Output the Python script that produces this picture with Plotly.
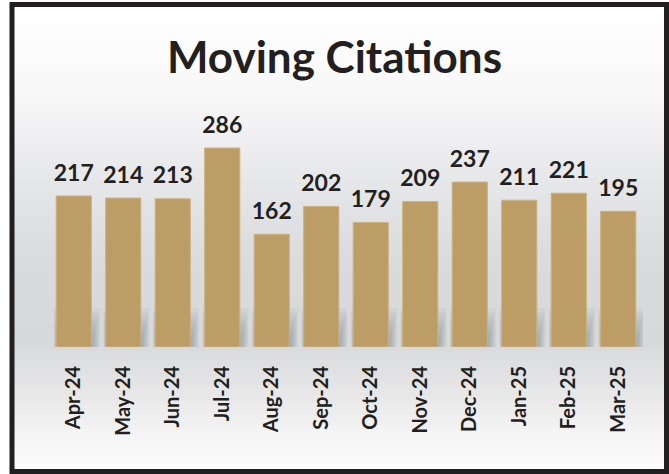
import plotly.graph_objects as go

months = ["Apr-24", "May-24", "Jun-24", "Jul-24", "Aug-24", "Sep-24",
          "Oct-24", "Nov-24", "Dec-24", "Jan-25", "Feb-25", "Mar-25"]
citations = [217, 214, 213, 286, 162, 202, 179, 209, 237, 211, 221, 195]
title_text = "Moving Citations"

W, H = 669, 474
ML, MR, MT, MB = 49, 26, 100, 127
PW, PH = W - ML - MR, H - MT - MB

def px_x(px):
    return (px - ML) / PW

def px_y(py):
    return (H - MB - py) / PH

def hex2rgb(h):
    h = h.lstrip("#")
    return [int(h[i:i + 2], 16) for i in (0, 2, 4)]

stops = [(7, "#ffffff"), (100, "#f7f7f8"), (180, "#e6e7e9"), (260, "#dadbdd"),
         (340, "#d7d8da"), (400, "#e9e9ea"), (440, "#f6f6f6"), (470, "#fdfdfd")]

def color_at(py):
    for (a, ca), (b, cb) in zip(stops[:-1], stops[1:]):
        if a <= py <= b:
            t = (py - a) / (b - a)
            r1, r2 = hex2rgb(ca), hex2rgb(cb)
            c = [round(r1[i] + (r2[i] - r1[i]) * t) for i in range(3)]
            return "rgb(%d,%d,%d)" % tuple(c)
    return stops[-1][1]

shapes = []
top, bot = 7, 470
n = 93
step = (bot - top) / n
for k in range(n):
    y0 = top + k * step
    y1 = y0 + step + 0.6
    shapes.append(dict(type="rect", xref="paper", yref="paper",
                       x0=px_x(14), x1=px_x(666), y0=px_y(y1), y1=px_y(y0),
                       fillcolor=color_at(y0 + step / 2), line=dict(width=0),
                       layer="below"))

# soft shadows at bar bases
for i in range(len(months)):
    for k in range(8):
        shapes.append(dict(type="rect", xref="x", yref="y",
                           x0=i - 0.40 + k * 0.008, x1=i + 0.53 - k * 0.02,
                           y0=0, y1=56 - k * 6,
                           fillcolor="rgba(120,122,128,0.07)", line=dict(width=0),
                           layer="below"))

# outer border
shapes.append(dict(type="rect", xref="paper", yref="paper",
                   x0=px_x(12), x1=px_x(666.5), y0=px_y(471.5), y1=px_y(4.5),
                   line=dict(color="#231f20", width=5), fillcolor="rgba(0,0,0,0)",
                   layer="above"))

fig = go.Figure()
fig.add_trace(go.Bar(
    x=months, y=citations,
    marker=dict(color="#bc9d66", line=dict(color="#cbb183", width=1)),
    width=0.71, hoverinfo="skip",
))
fig.add_trace(go.Scatter(
    x=months, y=citations, mode="markers+text",
    marker=dict(size=14, opacity=0),
    text=[str(v) for v in citations], textposition="top center",
    textfont=dict(family="Lato", size=23, color="#231f20", weight="bold"),
    cliponaxis=False, hoverinfo="skip",
))

fig.update_layout(
    width=W, height=H,
    margin=dict(l=ML, r=MR, t=MT, b=MB),
    paper_bgcolor="white", plot_bgcolor="rgba(0,0,0,0)",
    title=dict(text="<b>" + title_text + "</b>", x=0.5, xanchor="center",
               y=(H - 58) / H, yanchor="middle", yref="container",
               font=dict(family="Lato", size=44, color="#231f20")),
    shapes=shapes,
    showlegend=False,
    xaxis=dict(tickangle=-90, showgrid=False, showline=False, zeroline=False,
               range=[-0.5, len(months) - 0.5], automargin=False,
               ticks="outside", ticklen=10, tickcolor="rgba(0,0,0,0)",
               tickfont=dict(family="Lato", size=20, color="#231f20", weight="bold")),
    yaxis=dict(range=[0, 355], visible=False, showgrid=False, zeroline=False),
)

fig.write_html("out.html", config={"displayModeBar": False},
               post_script="document.body.style.margin='0';document.body.style.overflow='hidden';")
